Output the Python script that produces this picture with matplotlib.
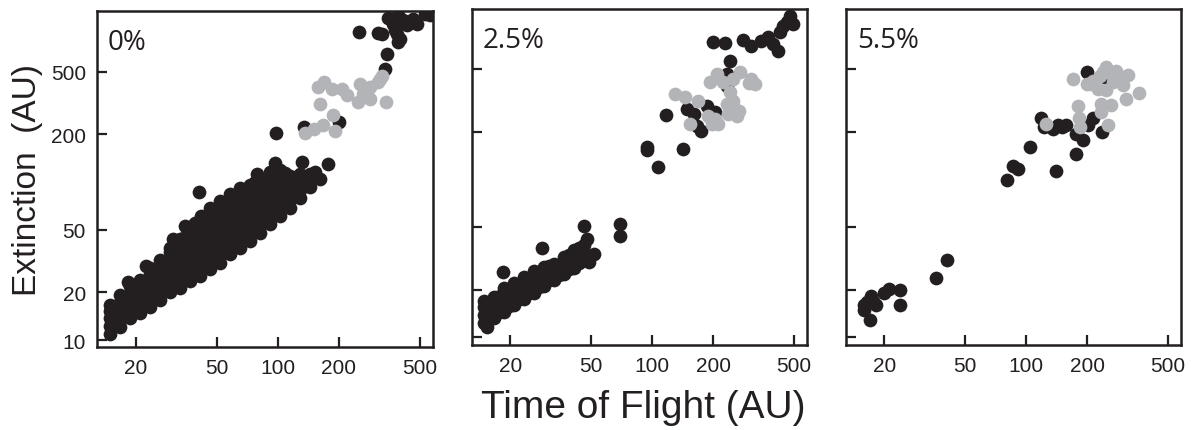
import matplotlib.pyplot as plt
from matplotlib.ticker import NullLocator

plt.rcParams['font.family'] = ['Liberation Sans', 'DejaVu Sans']

BLACK = '#231f20'
GREY = '#b3b4b7'

# ---------------- 0% ----------------
# dense cloud (black)
cloud0_x = [15.0, 15.0, 15.0, 15.0, 15.0,
            16.7, 16.7, 16.7, 16.7, 16.7,
            18.7, 18.7, 18.7, 18.7, 18.7, 18.4,
            21.0, 21.0, 21.0, 21.0, 21.0,
            23.5, 23.5, 23.5, 23.5, 23.5, 23.5, 22.6,
            26.3, 26.3, 26.3, 26.3, 26.3, 26.3,
            29.5, 29.5, 29.5, 29.5, 29.5, 29.5, 29.5, 30.5,
            33.0, 33.0, 33.0, 33.0, 33.0, 33.0, 33.0,
            37.0, 37.0, 37.0, 37.0, 37.0, 37.0, 37.0, 37.0, 35.0,
            41.4, 41.4, 41.4, 41.4, 41.4, 41.4, 41.4, 41.4, 41.9, 41.0,
            46.4, 46.4, 46.4, 46.4, 46.4, 46.4, 46.4, 46.4, 46.4,
            52.0, 52.0, 52.0, 52.0, 52.0, 52.0, 52.0, 52.0, 52.0,
            58.2, 58.2, 58.2, 58.2, 58.2, 58.2, 58.2, 58.2, 58.2,
            65.2, 65.2, 65.2, 65.2, 65.2, 65.2, 65.2, 65.2, 65.2,
            73.0, 73.0, 73.0, 73.0, 73.0, 73.0, 73.0, 73.0,
            81.7, 81.7, 81.7, 81.7, 81.7, 81.7, 81.7, 81.7, 79.0,
            91.5, 91.5, 91.5, 91.5, 91.5, 91.5, 91.5,
            102.5, 102.5, 102.5, 102.5, 102.5, 102.5, 102.5, 96.9,
            114.8, 114.8, 114.8, 114.8, 114.8,
            128.6, 128.6, 128.6, 128.6, 132.0,
            144.0, 144.0, 144.0,
            161.0, 152.0, 176.0]
cloud0_y = [10.9, 12.2, 13.7, 15.2, 16.6,
            12.1, 13.6, 15.3, 17.2, 19.3,
            13.7, 15.4, 17.3, 19.5, 22.0, 23.2,
            14.9, 16.8, 18.9, 21.3, 24.0,
            16.3, 18.3, 20.6, 23.1, 26.0, 28.6, 29.5,
            17.8, 20.0, 22.5, 25.3, 28.5, 32.0,
            20.0, 22.5, 25.3, 28.4, 31.9, 35.9, 38.2, 43.6,
            21.5, 24.2, 27.2, 30.5, 34.3, 38.5, 43.3,
            23.5, 26.4, 29.7, 33.3, 37.4, 42.0, 47.2, 52.0, 52.7,
            25.6, 28.8, 32.3, 36.3, 40.8, 45.8, 51.5, 57.8, 60.9, 86.0,
            28.3, 31.8, 35.7, 40.1, 45.0, 50.6, 56.8, 63.8, 68.4,
            30.9, 34.7, 39.0, 43.8, 49.2, 55.3, 62.1, 69.8, 75.8,
            34.8, 39.1, 43.9, 49.3, 55.4, 62.2, 69.9, 78.5, 84.0,
            38.5, 43.3, 48.6, 54.6, 61.3, 68.9, 77.4, 87.0, 91.6,
            42.6, 47.9, 53.8, 60.4, 67.9, 76.3, 85.7, 96.0,
            47.9, 53.8, 60.4, 67.9, 76.3, 85.7, 96.3, 106.0, 112.0,
            54.6, 61.3, 68.9, 77.4, 87.0, 97.7, 115.0,
            61.4, 69.0, 77.5, 87.1, 97.8, 110.0, 119.0, 131.8,
            69.0, 77.5, 87.0, 97.7, 109.0,
            79.8, 89.6, 100.6, 113.0, 133.0,
            93.0, 103.0, 113.0,
            104.0, 116.0, 131.0]

# points sitting between the columns above (fill the inside of the cloud)
fill0_x = [15.8, 15.8, 15.8,
           17.7, 17.7, 17.7,
           19.8, 19.8, 19.8,
           22.2, 22.2, 22.2,
           24.9, 24.9, 24.9, 24.9,
           27.9, 27.9, 27.9, 27.9,
           31.2, 31.2, 31.2, 31.2, 31.2,
           35.0, 35.0, 35.0, 35.0, 35.0, 35.0,
           39.1, 39.1, 39.1, 39.1, 39.1, 39.1, 39.1,
           43.8, 43.8, 43.8, 43.8, 43.8, 43.8, 43.8,
           49.1, 49.1, 49.1, 49.1, 49.1, 49.1, 49.1,
           55.0, 55.0, 55.0, 55.0, 55.0, 55.0, 55.0,
           61.6, 61.6, 61.6, 61.6, 61.6, 61.6, 61.6,
           69.0, 69.0, 69.0, 69.0, 69.0, 69.0, 69.0,
           77.2, 77.2, 77.2, 77.2, 77.2, 77.2, 77.2,
           86.5, 86.5, 86.5, 86.5, 86.5, 86.5,
           96.9, 96.9, 96.9, 96.9, 96.9, 96.9,
           108.5, 108.5, 108.5, 108.5, 108.5,
           121.5, 121.5, 121.5]
fill0_y = [13.0, 14.6, 16.4,
           14.5, 16.3, 18.3,
           15.8, 17.9, 20.1,
           17.6, 19.8, 22.2,
           19.2, 21.6, 24.3, 27.2,
           21.2, 23.8, 26.8, 30.1,
           23.0, 25.8, 29.0, 32.6, 36.6,
           25.0, 28.0, 31.5, 35.4, 39.8, 44.7,
           27.5, 30.9, 34.7, 39.0, 43.8, 49.2, 55.0,
           30.0, 33.7, 37.9, 42.6, 47.8, 53.7, 60.3,
           33.0, 37.0, 41.5, 46.6, 52.4, 58.8, 66.0,
           36.8, 41.3, 46.4, 52.1, 58.5, 65.7, 73.8,
           40.9, 45.9, 51.6, 57.9, 65.0, 73.0, 82.0,
           45.2, 50.8, 57.0, 64.0, 71.9, 80.8, 90.7,
           50.8, 57.0, 64.0, 71.9, 80.8, 90.7, 100.0,
           57.0, 64.0, 71.9, 80.8, 90.7, 102.0,
           65.0, 73.0, 82.0, 92.0, 103.0, 115.0,
           73.0, 82.0, 92.0, 103.0, 114.0,
           85.0, 95.0, 106.0]

black0_x = [98, 135, 199, 251, 312, 326, 343, 337, 350, 391, 377, 399, 391,
            431, 415, 464, 482, 530, 560, 370, 385]
black0_y = [204, 222, 240, 889, 877, 868, 649, 521, 1096, 1135, 912, 807, 769,
            981, 1054, 1080, 1004, 1161, 1135, 1000, 860]

grey0_x = [136, 150, 167, 188, 192, 161, 158, 168, 184, 206, 218, 249, 254,
           263, 284, 284, 312, 324, 340, 274, 318]
grey0_y = [204, 217, 228, 264, 209, 313, 399, 432, 389, 389, 354, 321, 419,
           362, 399, 337, 429, 470, 323, 370, 449]

# ---------------- 2.5% ----------------
cloud1_x = [14.9, 14.9, 14.9, 14.9, 15.3,
            16.7, 16.7, 16.7, 16.7,
            18.7, 18.7, 18.7, 18.7, 18.5,
            20.9, 20.9, 20.9, 20.9,
            23.4, 23.4, 23.4, 23.4,
            26.2, 26.2, 26.2, 26.2,
            29.4, 29.4, 29.4, 29.4, 28.6,
            32.9, 32.9, 32.9,
            36.9, 36.9, 36.9,
            41.3, 41.3, 41.3,
            46.2, 46.2, 46.2, 47.7, 46.3,
            51.8, 48.6]
cloud1_y = [12.4, 13.9, 15.5, 17.1, 11.6,
            13.3, 14.9, 16.5, 18.1,
            14.5, 16.2, 18.3, 20.6, 26.1,
            16.1, 18.0, 20.0, 22.2,
            17.6, 19.7, 21.8, 24.2,
            19.2, 21.4, 23.8, 26.4,
            21.2, 23.5, 25.7, 28.0, 36.6,
            23.2, 26.0, 29.2,
            25.3, 28.6, 32.3,
            27.6, 31.4, 35.8,
            31.0, 34.5, 38.5, 42.3, 50.6,
            34.0, 30.2]

fill1_x = [15.8, 15.8, 15.8, 17.7, 17.7, 17.7, 19.8, 19.8, 19.8,
           22.1, 22.1, 22.1, 24.8, 24.8, 24.8, 27.8, 27.8, 27.8,
           31.1, 31.1, 31.1, 34.8, 34.8, 39.0, 39.0, 39.0,
           43.7, 43.7, 43.7]
fill1_y = [13.5, 15.1, 16.7, 14.6, 16.3, 18.2, 15.9, 17.7, 19.8,
           17.4, 19.4, 21.6, 19.0, 21.1, 23.5, 20.8, 23.2, 25.8,
           23.0, 25.6, 28.3, 25.0, 27.8, 27.2, 30.4, 33.5,
           29.8, 33.3, 36.8]

black1_x = [200, 228, 281, 309, 346, 373, 395, 418, 426, 442, 477, 495, 460,
            242, 233, 233, 117, 148, 160, 166, 175, 186, 204,
            94, 94, 107, 142, 69.5, 69.5]
black1_y = [743, 729, 766, 702, 754, 793, 719, 652, 852, 938, 1084, 962, 1000,
            564, 465, 393, 256, 280, 260, 219, 204, 293, 267,
            160, 153, 120, 155, 51.9, 44.0]

grey1_x = [130, 145, 169, 193, 208, 224, 251, 271, 309, 321, 242, 251, 233,
           261, 237, 189, 212, 198, 154, 205, 255, 268, 300]
grey1_y = [348, 332, 315, 412, 465, 412, 432, 476, 432, 402, 356, 315, 301,
           254, 260, 254, 225, 225, 225, 240, 280, 270, 410]

# ---------------- 5.5% ----------------
black2_x = [199, 244, 118, 122, 136, 144, 158, 151, 177, 191, 177, 214, 202,
            238, 104.5, 86.5, 91.5, 80.3, 141, 36.1, 40.7,
            15.8, 15.8, 17.1, 17.0, 18.1, 19.9, 21.0, 24.0, 24.0, 16.5, 17.5]
black2_y = [477, 444, 246, 215, 209, 222, 222, 215, 195, 177, 144, 245, 220,
            201, 161, 122, 117, 99.9, 114, 23.9, 30.9,
            16.1, 14.9, 18.2, 12.9, 16.1, 19.0, 20.3, 20.0, 16.1, 16.8, 17.0]

grey2_x = [171, 199, 214, 226, 231, 249, 279, 295, 318, 268, 301, 249, 312,
           363, 264, 235, 235, 181, 183, 184, 254, 125, 240, 260, 210]
grey2_y = [434, 403, 423, 375, 455, 514, 489, 444, 459, 413, 394, 366, 324,
           352, 297, 301, 267, 294, 245, 215, 222, 225, 480, 470, 400]

panels = [
    ('0%', cloud0_x + fill0_x + black0_x, cloud0_y + fill0_y + black0_y,
     grey0_x, grey0_y),
    ('2.5%', cloud1_x + fill1_x + black1_x, cloud1_y + fill1_y + black1_y,
     grey1_x, grey1_y),
    ('5.5%', black2_x, black2_y, grey2_x, grey2_y),
]

xticks = [20, 50, 100, 200, 500]
yticks = [10, 20, 50, 200, 500]

fig = plt.figure(figsize=(12.03, 4.31), dpi=100)
rects = [[0.0806, 0.1919, 0.2793, 0.7791],
         [0.3921, 0.1979, 0.2787, 0.7789],
         [0.7030, 0.1979, 0.2785, 0.7789]]

for i, (label, bx, by, gx, gy) in enumerate(panels):
    ax = fig.add_axes(rects[i])
    ax.scatter(bx, by, s=98, color=BLACK, linewidths=0, zorder=2)
    ax.scatter(gx, gy, s=98, color=GREY, linewidths=0, zorder=3)

    ax.set_xscale('log')
    ax.set_yscale('log')
    ax.set_xlim(12.9, 580)
    ax.set_ylim(9.0, 1200)
    ax.set_xticks(xticks)
    ax.set_xticklabels([str(t) for t in xticks])
    ax.set_yticks(yticks)
    if i == 0:
        ax.set_yticklabels([str(t) for t in yticks])
    else:
        ax.set_yticklabels([])
    ax.xaxis.set_minor_locator(NullLocator())
    ax.yaxis.set_minor_locator(NullLocator())
    ax.tick_params(direction='in', length=7, width=1.6, color=BLACK,
                   labelsize=15, labelcolor=BLACK, pad=8)
    for sp in ax.spines.values():
        sp.set_linewidth(1.8)
        sp.set_color(BLACK)

    ax.text(0.033, 0.95, label, transform=ax.transAxes, ha='left', va='top',
            fontsize=20, color=BLACK, family=['Open Sans', 'DejaVu Sans'])

fig.text(0.5345, 0.030, 'Time of Flight (AU)', ha='center', va='baseline',
         fontsize=28, color=BLACK)
fig.text(0.023, 0.582, 'Extinction  (AU)', rotation=90, ha='center',
         va='center', fontsize=24, color=BLACK)

fig.savefig('out.png', dpi=100)
